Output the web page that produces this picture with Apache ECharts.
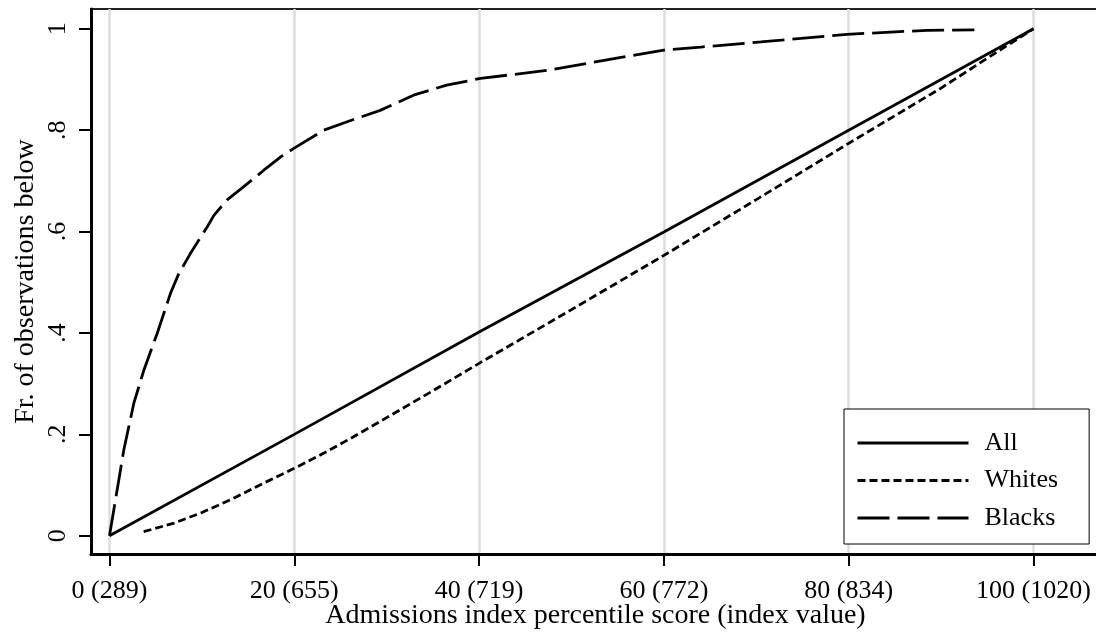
<!DOCTYPE html>
<html>
<head>
<meta charset="utf-8">
<script src="https://cdn.jsdelivr.net/npm/echarts@6/dist/echarts.min.js"></script>
<style>
  html, body { margin: 0; padding: 0; background: #fff; }
  #chart { width: 1096px; height: 633px; }
</style>
</head>
<body>
<div id="chart"></div>
<script>
// x tick positions (percentile) and the index value shown with each
const tickPct = [0, 20, 40, 60, 80, 100]
const tickIndex = [289, 655, 719, 772, 834, 1020]
const yTicks = [0, 0.2, 0.4, 0.6, 0.8, 1]

// All applicants
const allX = [0, 20, 40, 60, 80, 100]
const allY = [0, 0.2, 0.402, 0.599, 0.8, 1]

// Whites
const whitesX = [3.7, 7, 9.9, 13.1, 16.7, 20, 23.2, 26.1, 30, 35, 40, 50, 60, 70, 80, 90, 95, 100]
const whitesY = [0.008, 0.025, 0.045, 0.071, 0.104, 0.133, 0.163, 0.192, 0.233, 0.286, 0.34, 0.446, 0.553, 0.663, 0.774, 0.883, 0.942, 1]

// Blacks
const blacksX = [0, 1.55, 2.63, 3.71, 5.16, 6.6, 7.5, 8.77, 10.57, 11.3, 12.7, 14.5, 16.7, 18.5, 19.95, 23.2, 26.1,
  29.3, 32.9, 36.5, 40.15, 47.4, 54.6, 60, 64, 70.5, 79.8, 88.5, 93.6]
const blacksY = [0, 0.169, 0.261, 0.326, 0.399, 0.478, 0.517, 0.557, 0.609, 0.632, 0.662, 0.688, 0.721, 0.747, 0.764,
  0.8, 0.819, 0.839, 0.869, 0.889, 0.902, 0.918, 0.941, 0.958, 0.964, 0.974, 0.989, 0.997, 0.998]

const zip = (xs, ys) => xs.map((x, i) => [x, ys[i]])
const font = "'Liberation Serif', 'DejaVu Serif', serif"

const chart = echarts.init(document.getElementById('chart'), null, { renderer: 'canvas' })

chart.setOption({
  animation: false,
  backgroundColor: '#fff',
  textStyle: { fontFamily: font, color: '#000' },
  grid: {
    left: 91,
    right: -4,
    top: 9,
    bottom: 79,
    containLabel: false,
    outerBoundsMode: 'none',
    show: true,
    borderColor: '#222',
    borderWidth: 2,
  },
  xAxis: {
    type: 'value',
    min: -2,
    max: 107.2,
    name: 'Admissions index percentile score (index value)',
    nameLocation: 'middle',
    nameGap: 48,
    nameMoveOverlap: false,
    nameTextStyle: { fontFamily: font, fontSize: 28, color: '#000' },
    axisLine: { onZero: false, lineStyle: { color: '#000', width: 3 } },
    axisTick: { show: true, length: 12, lineStyle: { color: '#000', width: 2 }, customValues: tickPct },
    axisLabel: {
      fontFamily: font,
      fontSize: 26,
      color: '#000',
      margin: 24,
      customValues: tickPct,
      formatter: (v) => v + ' (' + tickIndex[tickPct.indexOf(v)] + ')',
    },
    splitLine: { show: true, lineStyle: { color: '#dcdcdc', width: 2.5 } },
  },
  yAxis: {
    type: 'value',
    min: -0.036,
    max: 1.039,
    name: 'Fr. of observations below',
    nameLocation: 'middle',
    nameGap: 51,
    nameMoveOverlap: false,
    nameTextStyle: { fontFamily: font, fontSize: 28, color: '#000' },
    axisLine: { show: true, onZero: false, lineStyle: { color: '#000', width: 3 } },
    axisTick: { show: true, length: 12, lineStyle: { color: '#000', width: 2 }, customValues: yTicks },
    axisLabel: {
      fontFamily: font,
      fontSize: 26,
      color: '#000',
      rotate: 90,
      margin: 20,
      customValues: yTicks,
      formatter: (v) => (v === 0 || v === 1 ? String(v) : v.toFixed(1).replace(/^0/, '')),
    },
    splitLine: { show: false },
  },
  legend: {
    left: 844,
    top: 409,
    orient: 'vertical',
    padding: [21, 31, 13, 12],
    itemWidth: 111,
    itemHeight: 26,
    itemGap: 11.5,
    borderColor: '#000',
    borderWidth: 1,
    backgroundColor: '#fff',
    itemStyle: { opacity: 0 },
    textStyle: { fontFamily: font, fontSize: 26, color: '#000', lineHeight: 26, padding: [0, 0, 0, 11] },
    data: [
      { name: 'All', lineStyle: { color: '#000', type: 'solid', width: 3, opacity: 1 } },
      { name: 'Whites', lineStyle: { color: '#000', type: [8, 4], width: 3, opacity: 1 } },
      { name: 'Blacks', lineStyle: { color: '#000', type: [32, 8], width: 3, opacity: 1 } },
    ],
  },
  series: [
    {
      name: 'All',
      type: 'line',
      data: zip(allX, allY),
      symbol: 'none',
      lineStyle: { color: '#000', width: 2.8, type: 'solid' },
      itemStyle: { color: '#000' },
      z: 3,
    },
    {
      name: 'Whites',
      type: 'line',
      data: zip(whitesX, whitesY),
      symbol: 'none',
      lineStyle: { color: '#000', width: 2.8, type: [8, 4] },
      itemStyle: { color: '#000' },
      z: 3,
    },
    {
      name: 'Blacks',
      type: 'line',
      data: zip(blacksX, blacksY),
      symbol: 'none',
      lineStyle: { color: '#000', width: 2.8, type: [32, 8] },
      itemStyle: { color: '#000' },
      z: 3,
    },
  ],
})

window.addEventListener('resize', () => {
  chart.resize()
})
</script>
</body>
</html>
